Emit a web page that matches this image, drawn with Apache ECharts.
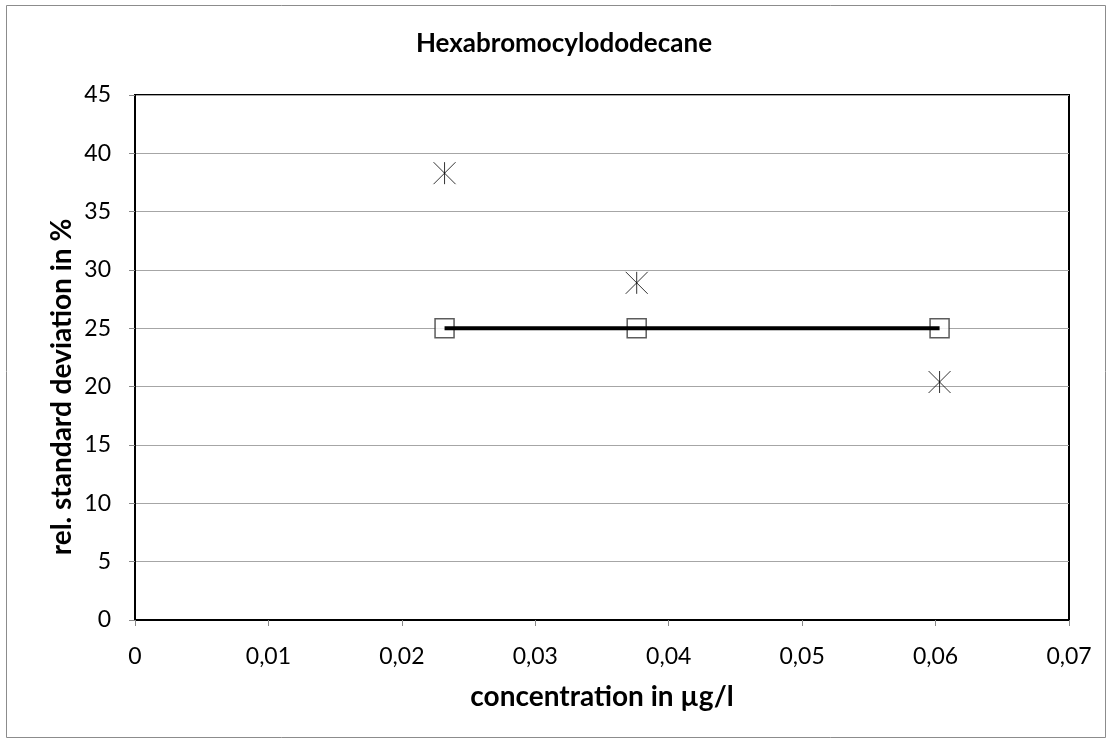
<!DOCTYPE html>
<html><head><meta charset="utf-8">
<script src="https://cdn.jsdelivr.net/npm/echarts@6/dist/echarts.min.js"></script>
<style>html,body{margin:0;padding:0;background:#fff}#c{width:1112px;height:744px}</style>
</head><body><div id="c"></div>
<script>
const titleText = 'Hexabromocylododecane';
const xAxisName = 'concentration in µg/l';
const yAxisName = 'rel. standard deviation in %';
const concentrations = [0.0232, 0.0376, 0.0603];
const measuredRSD = [38.3, 28.9, 20.4];
const targetRSD = [25, 25, 25];

const font = 'Lato, "Open Sans", sans-serif';
const targetPoints = concentrations.map((x, i) => [x, targetRSD[i]]);
const chart = echarts.init(document.getElementById('c'), null, {renderer: 'canvas'});
chart.setOption({
  animation: false,
  backgroundColor: '#fff',
  graphic: [
    {type: 'rect', shape: {x: 6.5, y: 5.5, width: 1099, height: 732}, style: {fill: 'none', stroke: '#8c8c8c', lineWidth: 1}},
    {type: 'text', x: 602, y: 697, style: {text: xAxisName, align: 'center', verticalAlign: 'middle', font: 'bold 28px ' + font, fill: '#000'}},
    {type: 'text', x: 62, y: 387, rotation: Math.PI / 2, style: {text: yAxisName, align: 'center', verticalAlign: 'middle', font: 'bold 28px ' + font, fill: '#000'}},
    {type: 'text', x: 564, y: 44, style: {text: titleText, align: 'center', verticalAlign: 'middle', font: 'bold 26px ' + font, fill: '#000'}}
  ],
  grid: {left: 135, top: 95, right: 43, bottom: 124, show: true, borderColor: '#000', borderWidth: 2, backgroundColor: 'transparent'},
  xAxis: {
    type: 'value', min: 0, max: 0.07, interval: 0.01,
    axisLine: {show: true, lineStyle: {color: '#000', width: 2}},
    axisTick: {show: true, length: 6, lineStyle: {color: '#888'}},
    splitLine: {show: false},
    axisLabel: {fontFamily: font, fontSize: 23, color: '#000', margin: 25, formatter: v => String(+v.toFixed(2)).replace('.', ',')}
  },
  yAxis: {
    type: 'value', min: 0, max: 45, interval: 5,
    axisLine: {show: true, lineStyle: {color: '#000', width: 2}},
    axisTick: {show: true, length: 6, lineStyle: {color: '#888'}},
    splitLine: {show: true, lineStyle: {color: '#a6a6a6', width: 1}},
    axisLabel: {fontFamily: font, fontSize: 23, color: '#000', margin: 24}
  },
  series: [
    {
      type: 'scatter', data: targetPoints,
      symbol: 'rect', symbolSize: 19,
      itemStyle: {color: '#fff', borderColor: '#333', borderWidth: 1.5}, z: 2
    },
    {
      type: 'line', data: targetPoints, showSymbol: false, symbol: 'none',
      lineStyle: {color: '#000', width: 4}, z: 3
    },
    {
      type: 'scatter', data: concentrations.map((x, i) => [x, measuredRSD[i]]),
      symbol: 'path://M0,0L20,20M20,0L0,20M10,0L10,20', symbolSize: 22,
      itemStyle: {color: 'none', borderColor: '#000', borderWidth: 1}, z: 4
    }
  ]
});
</script></body></html>
